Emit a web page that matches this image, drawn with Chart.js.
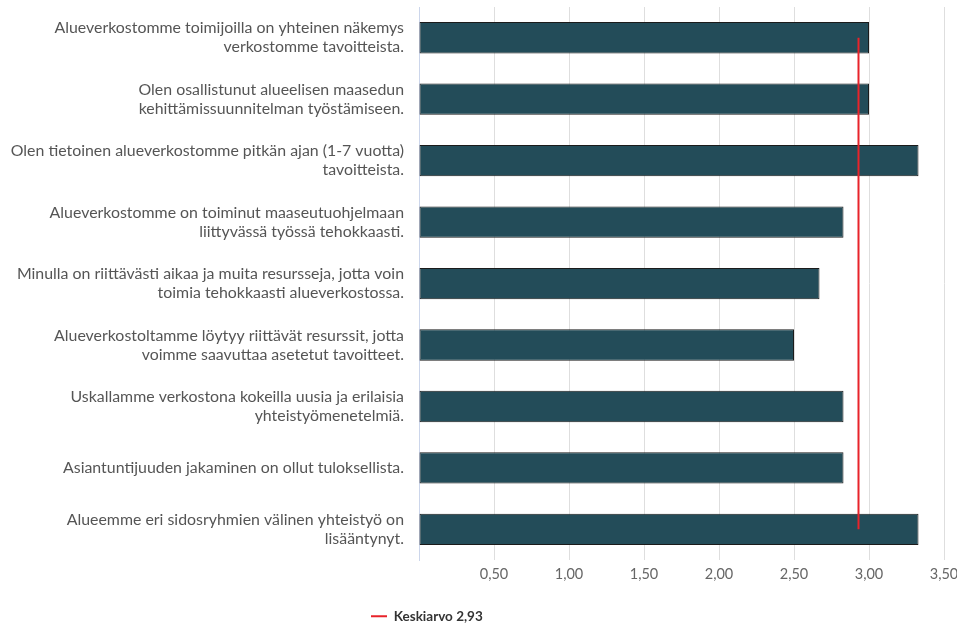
<!DOCTYPE html>
<html>
<head>
<meta charset="utf-8">
<script src="https://cdn.jsdelivr.net/npm/chart.js@4/dist/chart.umd.min.js"></script>
<style>
  html, body { margin: 0; padding: 0; background: #fff; }
  #wrap { width: 957px; height: 623px; }
</style>
</head>
<body>
<div id="wrap"><canvas id="chart"></canvas></div>
<script>
// Alueverkosto-kysely — keskiarvot väittämittäin

const categories = [
  ['Alueverkostomme toimijoilla on yhteinen näkemys', 'verkostomme tavoitteista.'],
  ['Olen osallistunut alueelisen maasedun', 'kehittämissuunnitelman työstämiseen.'],
  ['Olen tietoinen alueverkostomme pitkän ajan (1-7 vuotta)', 'tavoitteista.'],
  ['Alueverkostomme on toiminut maaseutuohjelmaan', 'liittyvässä työssä tehokkaasti.'],
  ['Minulla on riittävästi aikaa ja muita resursseja, jotta voin', 'toimia tehokkaasti alueverkostossa.'],
  ['Alueverkostoltamme löytyy riittävät resurssit, jotta', 'voimme saavuttaa asetetut tavoitteet.'],
  ['Uskallamme verkostona kokeilla uusia ja erilaisia', 'yhteistyömenetelmiä.'],
  'Asiantuntijuuden jakaminen on ollut tuloksellista.',
  ['Alueemme eri sidosryhmien välinen yhteistyö on', 'lisääntynyt.'],
];

const scores = [3.00, 3.00, 3.33, 2.83, 2.67, 2.50, 2.83, 2.83, 3.33];
const meanLine = [2.93, 2.93, 2.93, 2.93, 2.93, 2.93, 2.93, 2.93, 2.93];
const meanLabel = 'Keskiarvo 2,93';

const COLORS = {
  bar: '#234c59',
  barBorder: '#1b1b1b',
  mean: '#e8232a',
  text: '#555',
  grid: '#dedede',
  axis: '#ccd6eb',
};

Chart.defaults.font.family = 'Lato, "Open Sans", sans-serif';
Chart.defaults.color = COLORS.text;

// move the legend so it sits where the original one does
const legendShift = {
  id: 'legendShift',
  afterLayout(chart) {
    const lg = chart.legend;
    if (lg) {
      const w = lg.right - lg.left;
      lg.left = 361;
      lg.right = 361 + w;
      lg.top += 10;
      lg.bottom += 10;
    }
  },
};

new Chart(document.getElementById('chart'), {
  type: 'bar',
  data: {
    labels: categories,
    datasets: [{
      type: 'line',
      label: meanLabel,
      data: meanLine,
      borderColor: COLORS.mean,
      backgroundColor: COLORS.mean,
      borderWidth: 2,
      pointRadius: 0,
      fill: false,
      order: 0,
    }, {
      label: 'Keskiarvo',
      data: scores,
      backgroundColor: COLORS.bar,
      borderColor: COLORS.barBorder,
      borderWidth: 1,
      borderSkipped: false,
      categoryPercentage: 1,
      barPercentage: 0.51,
      order: 1,
    }],
  },
  plugins: [legendShift],
  options: {
    indexAxis: 'y',
    responsive: true,
    maintainAspectRatio: false,
    animation: false,
    layout: { padding: { top: 7, right: 13, left: 0, bottom: 0 } },
    plugins: {
      tooltip: { enabled: false },
      legend: {
        position: 'bottom',
        align: 'start',
        labels: {
          filter: item => item.text === meanLabel,
          usePointStyle: true,
          pointStyle: 'line',
          pointStyleWidth: 16,
          boxWidth: 16,
          color: '#333',
          font: { size: 13.5, weight: 'bold' },
          padding: 10,
        },
      },
    },
    scales: {
      x: {
        min: 0,
        max: 3.5,
        afterFit: scale => { scale.paddingLeft = 0; scale.paddingRight = 0; },
        ticks: {
          stepSize: 0.5,
          padding: 6,
          color: '#666',
          font: { size: 14.5 },
          callback: v => v === 0 ? '' : v.toFixed(2).replace('.', ','),
        },
        grid: { color: COLORS.grid, drawTicks: false },
        border: { display: false },
      },
      y: {
        afterFit: scale => {
          scale.width = 419;
          scale.paddingTop = 0;
          scale.paddingBottom = 0;
        },
        ticks: {
          padding: 15,
          color: COLORS.text,
          font: { size: 15.9, lineHeight: 1.19 },
        },
        grid: { display: false, drawTicks: false },
        border: { display: true, color: COLORS.axis, width: 1 },
      },
    },
  },
});
</script>
</body>
</html>
